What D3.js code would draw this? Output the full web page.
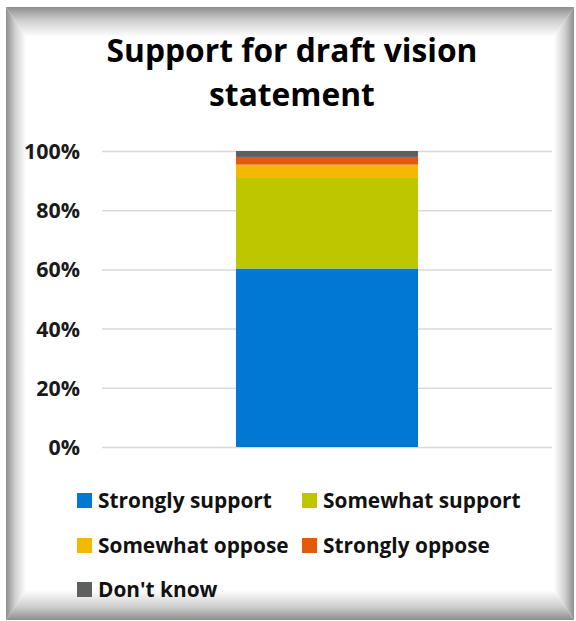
<!DOCTYPE html>
<html>
<head>
<meta charset="utf-8">
<script src="https://cdn.jsdelivr.net/npm/d3@7"></script>
<style>
html,body{margin:0;padding:0;background:#fff;}
svg{display:block;}
</style>
</head>
<body>
<svg id="chart" width="576" height="621"></svg>
<script>
// ---- data ----
const categories = ["Support for draft vision statement"];
const seriesNames = ["Strongly support", "Somewhat support", "Somewhat oppose", "Strongly oppose", "Don't know"];
const seriesValues = [60.3, 30.6, 4.5, 2.6, 2.0];
const seriesColors = ["#0078D4", "#BEC600", "#F4B800", "#E35A0C", "#5E5F61"];
const tickValues = [0, 20, 40, 60, 80, 100];
const tickLabels = ["0%", "20%", "40%", "60%", "80%", "100%"];
const titleLines = ["Support for draft vision", "statement"];

const svg = d3.select("#chart");
const defs = svg.append("defs");
const font = "'Open Sans', Lato, sans-serif";

// fit a font size so that a sample text has a target width
function fitSize(sample, weight, target) {
  const t = svg.append("text").attr("font-family", font).attr("font-weight", weight)
    .attr("font-size", 100).text(sample);
  const w = t.node().getComputedTextLength();
  t.remove();
  return 100 * target / w;
}

// ---- beveled frame ----
const fx0 = 6, fy0 = 7, fx1 = 574, fy1 = 620;
const bl = 20, bt = 30, br = 20, bb = 30;
function grad(id, x1, y1, x2, y2) {
  const g = defs.append("linearGradient").attr("id", id)
    .attr("x1", x1).attr("y1", y1).attr("x2", x2).attr("y2", y2);
  g.append("stop").attr("offset", "0%").attr("stop-color", "#8e8e8e");
  g.append("stop").attr("offset", "45%").attr("stop-color", "#cfcfcf");
  g.append("stop").attr("offset", "100%").attr("stop-color", "#ffffff");
}
grad("gTop", 0, 0, 0, 1);
grad("gBot", 0, 1, 0, 0);
grad("gLeft", 0, 0, 1, 0);
grad("gRight", 1, 0, 0, 0);
svg.append("rect").attr("x", fx0).attr("y", fy0).attr("width", fx1 - fx0).attr("height", fy1 - fy0).attr("fill", "#fff");
const pts = p => p.map(d => d.join(",")).join(" ");
svg.append("polygon").attr("points", pts([[fx0, fy0], [fx1, fy0], [fx1 - br, fy0 + bt], [fx0 + bl, fy0 + bt]])).attr("fill", "url(#gTop)");
svg.append("polygon").attr("points", pts([[fx0, fy1], [fx1, fy1], [fx1 - br, fy1 - bb], [fx0 + bl, fy1 - bb]])).attr("fill", "url(#gBot)");
svg.append("polygon").attr("points", pts([[fx0, fy0], [fx0 + bl, fy0 + bt], [fx0 + bl, fy1 - bb], [fx0, fy1]])).attr("fill", "url(#gLeft)");
svg.append("polygon").attr("points", pts([[fx1, fy0], [fx1 - br, fy0 + bt], [fx1 - br, fy1 - bb], [fx1, fy1]])).attr("fill", "url(#gRight)");

// ---- title ----
const titleSize = fitSize(titleLines[0], 700, 371);
const title = svg.append("text").attr("text-anchor", "middle")
  .attr("font-family", font).attr("font-weight", 700).attr("font-size", titleSize).attr("fill", "#000");
titleLines.forEach((t, i) => {
  title.append("tspan").attr("x", 292).attr("y", 62 + i * 44).text(t);
});

// ---- scales ----
const plot = { left: 102, right: 552, top: 151, bottom: 447 };
const y = d3.scaleLinear().domain([0, 100]).range([plot.bottom, plot.top]);
const x = d3.scaleBand().domain(categories).range([plot.left, plot.right]).paddingInner(0.424).paddingOuter(0.424);

// gridlines + tick labels
const tickSize = fitSize("100%", 700, 56);
const yAxis = d3.axisLeft(y).tickValues(tickValues).tickSize(-(plot.right - plot.left))
  .tickFormat((d, i) => tickLabels[i]).tickPadding(22);
const ga = svg.append("g").attr("transform", `translate(${plot.left},0)`).call(yAxis);
ga.select(".domain").remove();
ga.selectAll(".tick line").attr("stroke", "#d9d9d9").attr("stroke-width", 1.5);
ga.selectAll(".tick text").attr("font-family", font).attr("font-weight", 700)
  .attr("font-size", tickSize).attr("fill", "#1a1a1a").attr("dy", "0.35em");

// stacked bars
const row = {};
seriesNames.forEach((s, i) => row[s] = seriesValues[i]);
row.cat = categories[0];
const stack = d3.stack().keys(seriesNames)([row]);
svg.append("g").selectAll("rect").data(stack).join("rect")
  .attr("x", x(categories[0]))
  .attr("width", x.bandwidth())
  .attr("y", d => y(d[0][1]))
  .attr("height", d => y(d[0][0]) - y(d[0][1]))
  .attr("fill", (d, i) => seriesColors[i]);

// ---- legend ----
const legendSize = fitSize("Strongly support", 700, 174);
const legendPos = [[77, 500], [302, 500], [77, 545], [302, 545], [77, 589]];
const lg = svg.append("g");
seriesNames.forEach((s, i) => {
  const [lx, ly] = legendPos[i];
  lg.append("rect").attr("x", lx).attr("y", ly - 7).attr("width", 15).attr("height", 15).attr("fill", seriesColors[i]);
  lg.append("text").attr("x", lx + 21).attr("y", ly).attr("dy", "0.36em")
    .attr("font-family", font).attr("font-weight", 700).attr("font-size", legendSize).attr("fill", "#111").text(s);
});
</script>
</body>
</html>
